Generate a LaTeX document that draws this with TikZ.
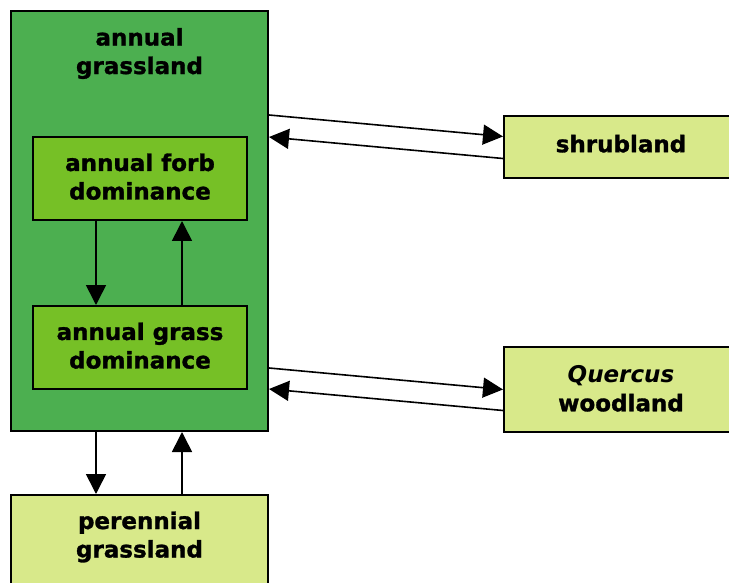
\documentclass[tikz,border=0pt]{standalone}
\usepackage{fontspec}
\setmainfont{DejaVu Sans}[BoldFeatures={FakeBold=1.3}]
\usetikzlibrary{arrows.meta}
\definecolor{outerg}{RGB}{76,175,80}
\definecolor{innerg}{RGB}{118,192,38}
\definecolor{lightg}{RGB}{216,233,138}
\begin{document}
\begin{tikzpicture}[x=1pt,y=-1pt,
  lbl/.style={font=\fontsize{23}{28.5}\selectfont\bfseries, align=center, inner sep=0pt},
  boxbase/.style={draw=black, line width=2pt, inner sep=0pt, anchor=center},
  outerbox/.style={boxbase, fill=outerg},
  innerbox/.style={boxbase, fill=innerg, lbl, minimum width=214pt, minimum height=83pt, text depth=4pt},
  lightbox/.style={boxbase, fill=lightg, lbl},
  conn/.style={draw=black, line width=1.6pt, -{Triangle[length=20pt,width=20pt]}}
]
\useasboundingbox (0,0) rectangle (729,583);
\clip (0,0) rectangle (729,583);
\fill[white] (0,0) rectangle (729,583);

\node[outerbox, minimum width=257pt, minimum height=420pt] (outer) at (139.5,221) {};
\node[lbl] (outerlbl) at (139.5,53.5) {annual\\grassland};
\node[innerbox] (forb) at (140,178.5) {annual forb\\dominance};
\node[innerbox] (grass) at (140,347.5) {annual grass\\dominance};
\node[lightbox, minimum width=234pt, minimum height=62pt, text depth=8pt] (shrub) at (621,147.5) {shrubland};
\node[lightbox, minimum width=234pt, minimum height=85pt, text depth=2pt] (querc) at (621,389.5) {\textit{Quercus}\\woodland};
\node[lightbox, minimum width=257pt, minimum height=100pt] (peren) at (139.5,545) {};
\node[lbl] (perenlbl) at (139.5,537) {perennial\\grassland};

\draw[conn] ([yshift=-105pt]outer.north east) -- ([yshift=11pt]shrub.west);
\draw[conn] ([yshift=-11pt]shrub.west) -- ([yshift=-127pt]outer.north east);
\draw[conn] ([yshift=-358pt]outer.north east) -- ([yshift=0pt]querc.west);
\draw[conn] ([yshift=-21pt]querc.west) -- ([yshift=-379pt]outer.north east);

\draw[conn] ([xshift=-44pt]forb.south) -- ([xshift=-44pt]grass.north);
\draw[conn] ([xshift=42pt]grass.north) -- ([xshift=42pt]forb.south);
\draw[conn] ([xshift=-43.5pt]outer.south) -- ([xshift=-43.5pt]peren.north);
\draw[conn] ([xshift=42.5pt]peren.north) -- ([xshift=42.5pt]outer.south);
\end{tikzpicture}
\end{document}
